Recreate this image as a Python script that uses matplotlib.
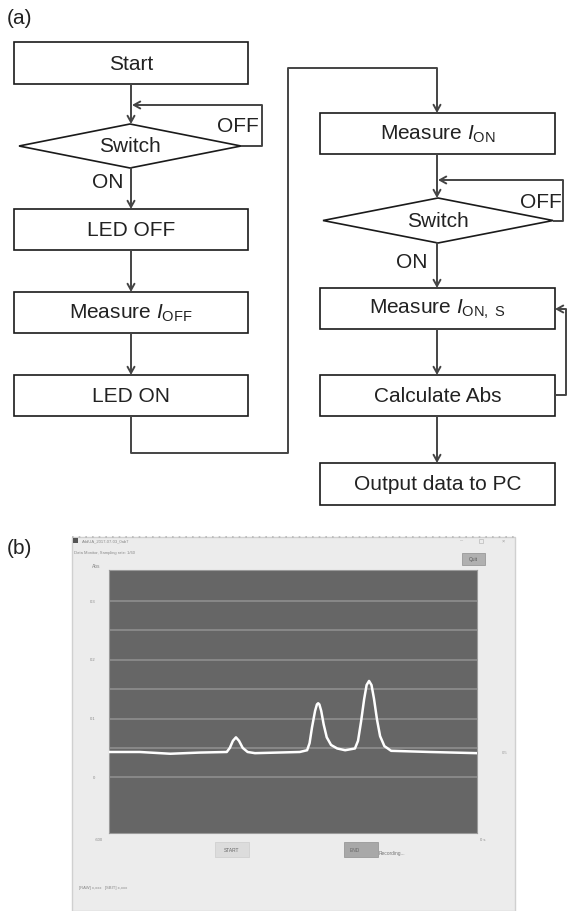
import matplotlib
matplotlib.use('Agg')
import matplotlib.pyplot as plt
from matplotlib.patches import Rectangle, Polygon

plt.rcParams['font.family'] = ['Liberation Sans', 'DejaVu Sans']
plt.rcParams['mathtext.fontset'] = 'custom'
plt.rcParams['mathtext.rm'] = 'Liberation Sans'
plt.rcParams['mathtext.it'] = 'Liberation Sans:italic'

# flowchart labels
left_steps = ['Start', 'LED OFF', r'Measure $\mathit{I}_{\mathrm{OFF}}$', 'LED ON']
right_steps = [r'Measure $\mathit{I}_{\mathrm{ON}}$', r'Measure $\mathit{I}_{\mathrm{ON,\ S}}$',
               'Calculate Abs', 'Output data to PC']
decision = 'Switch'

time_s = [0, 50, 100, 148, 192, 197, 202, 207, 212, 218, 226, 238, 311, 323, 327, 331,
          336, 339, 341, 343, 346, 350, 355, 362, 372, 385, 401, 406, 411, 416, 420, 424,
          428, 432, 437, 442, 449, 460, 523, 600]
absorb = [0.043, 0.043, 0.040, 0.042, 0.043, 0.050, 0.062, 0.068, 0.062, 0.050, 0.043,
          0.041, 0.043, 0.046, 0.058, 0.085, 0.113, 0.124, 0.126, 0.124, 0.113, 0.090,
          0.068, 0.055, 0.049, 0.046, 0.049, 0.062, 0.095, 0.133, 0.157, 0.164, 0.157,
          0.134, 0.098, 0.070, 0.053, 0.045, 0.043, 0.041]
grid_vals = [0.3, 0.25, 0.2, 0.15, 0.1, 0.05, 0.0]
ytick_vals = [0.3, 0.2, 0.1, 0.0]
ytick_labels = ['0.3', '0.2', '0.1', '0']

W, H = 568, 911
fig = plt.figure(figsize=(W / 100, H / 100), dpi=100)
ax = fig.add_axes([0, 0, 1, 1])
ax.set_xlim(0, W)
ax.set_ylim(H, 0)
ax.axis('off')

box_c = '#1a1a1a'
line_c = '#444444'
fs = 15


def box(x0, y0, x1, y1, text):
    ax.add_patch(Rectangle((x0, y0), x1 - x0, y1 - y0, fill=False, ec=box_c, lw=1.2))
    ax.text((x0 + x1) / 2, (y0 + y1) / 2 + 1, text, ha='center', va='center', fontsize=fs, color='#222')


def diamond(xl, xr, yt, yb, text):
    xc, yc = (xl + xr) / 2, (yt + yb) / 2
    ax.add_patch(Polygon([(xl, yc), (xc, yt), (xr, yc), (xc, yb)], closed=True, fill=False, ec=box_c, lw=1.2))
    ax.text(xc, yc + 1, text, ha='center', va='center', fontsize=fs, color='#222')


def path(pts, arrow=True):
    xs = [p[0] for p in pts]
    ys = [p[1] for p in pts]
    if arrow:
        ax.plot(xs[:-1], ys[:-1], color=line_c, lw=1.4, solid_capstyle='butt')
        ax.annotate('', xy=pts[-1], xytext=pts[-2],
                    arrowprops=dict(arrowstyle='->,head_length=0.45,head_width=0.25', color=line_c, lw=1.4,
                                    shrinkA=0, shrinkB=0))
    else:
        ax.plot(xs, ys, color=line_c, lw=1.4)


ax.text(7, 19, '(a)', fontsize=fs, ha='left', va='center', color='#222')

# left column
lx0, lx1, lxc = 14, 248, 131
box(lx0, 42, lx1, 84, left_steps[0])
diamond(19, 241, 124, 168, decision)
box(lx0, 209, lx1, 250, left_steps[1])
box(lx0, 292, lx1, 333, left_steps[2])
box(lx0, 375, lx1, 416, left_steps[3])
path([(lxc, 84), (lxc, 124)])
path([(241, 146), (262, 146), (262, 105), (lxc + 1, 105)])
ax.text(238, 126, 'OFF', fontsize=fs, ha='center', va='center', color='#222')
ax.text(108, 183, 'ON', fontsize=fs, ha='center', va='center', color='#222')
path([(lxc, 168), (lxc, 209)])
path([(lxc, 250), (lxc, 292)])
path([(lxc, 333), (lxc, 375)])
path([(lxc, 416), (lxc, 453), (288, 453), (288, 68), (437, 68), (437, 113)])

# right column
rx0, rx1, rxc = 320, 555, 437
box(rx0, 113, rx1, 154, right_steps[0])
diamond(323, 553, 198, 243, decision)
box(rx0, 288, rx1, 329, right_steps[1])
box(rx0, 375, rx1, 416, right_steps[2])
box(rx0, 463, rx1, 505, right_steps[3])
path([(rxc, 154), (rxc, 198)])
path([(553, 221), (563, 221), (563, 180), (rxc + 1, 180)])
ax.text(541, 202, 'OFF', fontsize=fs, ha='center', va='center', color='#222')
ax.text(412, 262, 'ON', fontsize=fs, ha='center', va='center', color='#222')
path([(rxc, 243), (rxc, 288)])
path([(rxc, 329), (rxc, 375)])
path([(rxc, 416), (rxc, 463)])
path([(555, 395), (566, 395), (566, 309), (555, 309)])

# (b) screenshot window
ax.text(7, 549, '(b)', fontsize=fs, ha='left', va='center', color='#222')
ax.add_patch(Rectangle((72, 537), 443, 374, fc='#ececec', ec='#d0d0d0', lw=1))
ax.plot([72, 515], [537, 537], color='#b8b8b8', lw=1.2, ls=(0, (1, 3)))
ax.add_patch(Rectangle((73, 538), 5, 5, fc='#555', ec='none'))
ax.text(82, 541, 'AddUA_2017-07-03_0ab7', fontsize=3, color='#888', va='center')
ax.text(74, 553, 'Data Monitor, Sampling rate: 1/60', fontsize=3, color='#888', va='center')
ax.text(461, 541, '\u2013', fontsize=4, color='#aaa', va='center', ha='center')
ax.add_patch(Rectangle((479, 539), 4, 4, fill=False, ec='#bbb', lw=0.5))
ax.text(503, 541, '\u00d7', fontsize=4, color='#999', va='center', ha='center')
ax.add_patch(Rectangle((462, 553), 23, 12, fc='#b0b0b0', ec='#999', lw=0.6))
ax.text(473.5, 559, 'Quit', fontsize=3.5, color='#555', va='center', ha='center')
ax.text(92, 566, 'Abs', fontsize=3.5, color='#888', va='center')
ax.text(95, 840, '-600', fontsize=3, color='#888', va='center')
ax.text(480, 840, '0 s', fontsize=3, color='#888', va='center')
ax.text(502, 753, '0.5', fontsize=3, color='#999', va='center')
ax.add_patch(Rectangle((215, 842), 34, 15, fc='#dcdcdc', ec='#d0d0d0', lw=0.6))
ax.text(232, 850, 'START', fontsize=3.5, color='#666', va='center', ha='center')
ax.add_patch(Rectangle((344, 842), 34, 15, fc='#a8a8a8', ec='#999', lw=0.6))
ax.text(355, 850, 'END', fontsize=3.5, color='#666', va='center', ha='center')
ax.text(379, 854, 'Recording...', fontsize=3.5, color='#777', va='center')
ax.text(79, 888, '[RAW] x,xxx   [SBIT] x,xxx', fontsize=3, color='#888', va='center')

# data plot inside the window
px0, px1, py0, py1 = 109, 477, 570, 833
ax2 = fig.add_axes([px0 / W, (H - py1) / H, (px1 - px0) / W, (py1 - py0) / H])
ax2.set_facecolor('#666666')
ax2.set_xlim(0, 600)
ax2.set_ylim(-0.095, 0.353)
for g in grid_vals:
    ax2.axhline(g, color='#8e8e8e', lw=1.2, zorder=1)
ax2.plot(time_s, absorb, color='white', lw=1.8, zorder=3, solid_joinstyle='round')
ax2.set_xticks([])
ax2.set_yticks(ytick_vals)
ax2.set_yticklabels(ytick_labels, fontsize=3, color='#888')
ax2.tick_params(axis='y', length=0, pad=10)
for s in ax2.spines.values():
    s.set_color('#9a9a9a')
    s.set_linewidth(0.8)

fig.savefig('out.png', dpi=100)
